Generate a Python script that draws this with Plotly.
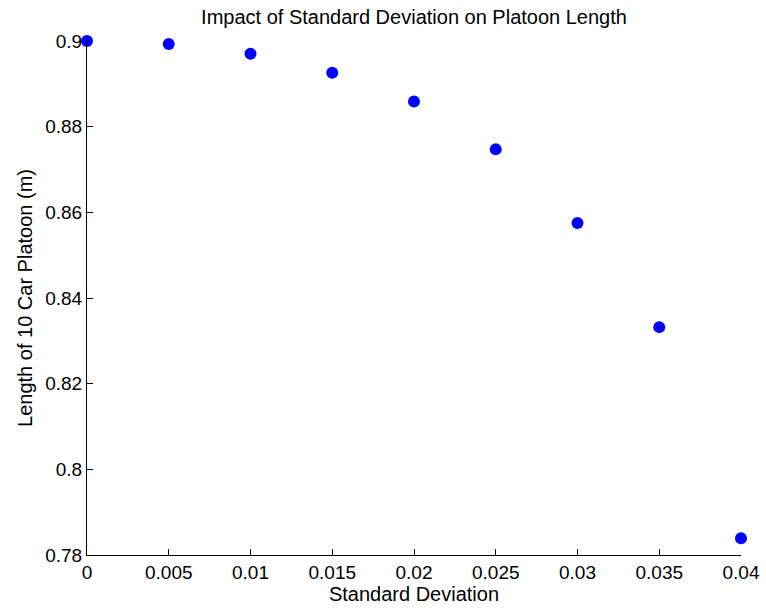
import plotly.graph_objects as go

std_dev = [0, 0.005, 0.01, 0.015, 0.02, 0.025, 0.03, 0.035, 0.04]
platoon_len = [0.9, 0.8993, 0.8970, 0.8926, 0.8859, 0.8747, 0.8575, 0.8332, 0.7839]
x_ticks = [0, 0.005, 0.01, 0.015, 0.02, 0.025, 0.03, 0.035, 0.04]
x_tick_text = ["0", "0.005", "0.01", "0.015", "0.02", "0.025", "0.03", "0.035", "0.04"]
y_ticks = [0.78, 0.8, 0.82, 0.84, 0.86, 0.88, 0.9]
y_tick_text = ["0.78", "0.8", "0.82", "0.84", "0.86", "0.88", "0.9"]

font = "Liberation Sans, Arial, Helvetica, sans-serif"

fig = go.Figure(go.Scatter(
    x=std_dev, y=platoon_len, mode="markers",
    marker=dict(color="#0000ff", size=12, line=dict(width=0)),
    cliponaxis=False,
))

fig.update_layout(
    width=766, height=610,
    margin=dict(l=87, r=25, t=41, b=55),
    paper_bgcolor="white", plot_bgcolor="white",
    showlegend=False,
    font=dict(family=font, size=19, color="black"),
    title=dict(text="Impact of Standard Deviation on Platoon Length",
               x=0.5, xref="paper", xanchor="center", y=1, yref="container", yanchor="top", pad=dict(t=10),
               font=dict(family=font, size=20, color="black")),
)
fig.update_xaxes(
    range=[0, 0.04], tickvals=x_ticks, ticktext=x_tick_text,
    showgrid=False, zeroline=False, showline=True, linecolor="black", linewidth=1,
    ticks="inside", ticklen=6, tickcolor="black", automargin=False,
    title=dict(text="Standard Deviation", font=dict(family=font, size=20), standoff=4),
)
fig.update_yaxes(
    range=[0.78, 0.9], tickvals=y_ticks, ticktext=y_tick_text,
    showgrid=False, zeroline=False, showline=True, linecolor="black", linewidth=1,
    ticks="inside", ticklen=6, tickcolor="black", automargin=False,
    title=dict(text="Length of 10 Car Platoon (m)", font=dict(family=font, size=20), standoff=7),
)

fig.write_html("out.html")
